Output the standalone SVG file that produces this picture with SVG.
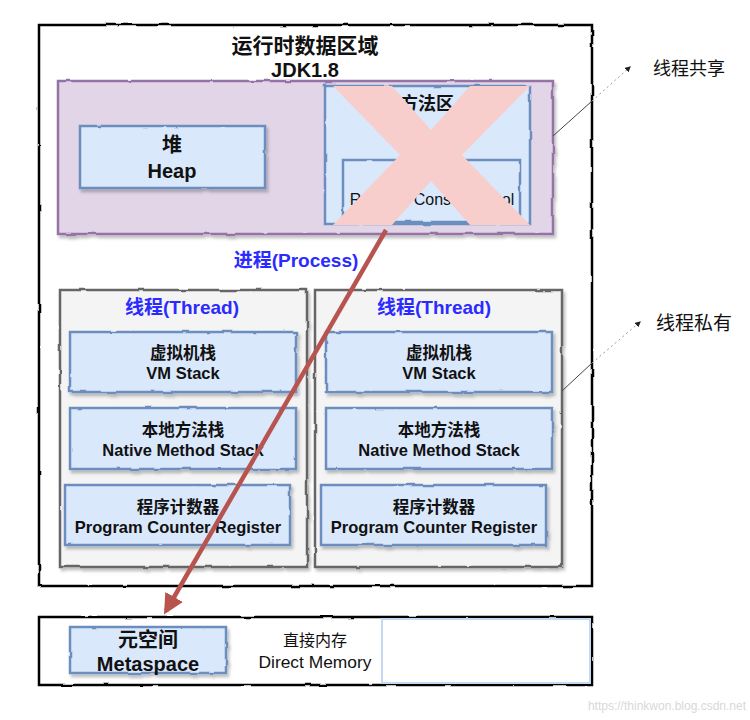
<svg xmlns="http://www.w3.org/2000/svg" width="750" height="720" viewBox="0 0 750 720">
<defs>
<style>
text{font-family:"Liberation Sans","Noto Sans CJK SC",sans-serif;text-anchor:middle;fill:#111}
.b{font-weight:bold}
.blue{fill:#2b2bff;font-weight:bold;font-size:19px}
.node{fill:#dae8fc;stroke:#6c8ebf;stroke-width:2.5}
.thread{fill:#f4f4f4;stroke:#666;stroke-width:2.5}
.outer{fill:#fff;stroke:#000;stroke-width:2.5}
.t15{font-size:16.5px;font-weight:bold}
.sk{filter:url(#rough)}
</style>
<marker id="ah" viewBox="0 0 10 10" refX="8" refY="5" markerWidth="6" markerHeight="6" orient="auto"><path d="M0,0 L10,5 L0,10 z" fill="#222"/></marker>
<marker id="red" viewBox="0 0 10 10" refX="8" refY="5" markerWidth="4.5" markerHeight="4.5" orient="auto"><path d="M0,0 L10,5 L0,10 z" fill="#b85450"/></marker>
<filter id="sh" x="-5%" y="-5%" width="115%" height="120%"><feTurbulence type="fractalNoise" baseFrequency="0.05" numOctaves="2" seed="3" result="n"/><feDisplacementMap in="SourceGraphic" in2="n" scale="2.5" result="d"/><feDropShadow in="d" dx="2" dy="3" stdDeviation="1.5" flood-color="#000" flood-opacity="0.25"/></filter>
<filter id="rough" x="-2%" y="-2%" width="104%" height="104%"><feTurbulence type="fractalNoise" baseFrequency="0.05" numOctaves="2" seed="7" result="n"/><feDisplacementMap in="SourceGraphic" in2="n" scale="2.5"/></filter>
</defs>

<g id="runtime">
<rect class="outer sk" x="39" y="25" width="553" height="561"/>
<text class="b" x="305" y="53" font-size="21">运行时数据区域</text>
<text class="b" x="305" y="77" font-size="20">JDK1.8</text>
</g>

<g id="shared">
<rect x="58" y="81" width="495" height="153" fill="#e1d5e7" stroke="#9673a6" stroke-width="2.5" filter="url(#sh)"/>
</g>

<g id="heap">
<rect class="node" x="80" y="126" width="185" height="62" filter="url(#sh)"/>
<text class="b" x="172" y="152" font-size="20">堆</text>
<text class="b" x="172" y="178" font-size="20">Heap</text>
</g>

<g id="method-area">
<rect class="node sk" x="325" y="86" width="205" height="138"/>
<text class="b" x="427" y="110" font-size="18">方法区</text>
<rect class="node sk" x="343" y="160" width="177" height="62"/>
<text x="432" y="205" font-size="16">Runtime Constant Pool</text>
<polygon points="333,86 392,86 431,130 470,86 530,86 462,155 530,225 470,225 431,181 392,225 333,225 400,155" fill="#f8cecc"/>
</g>

<text class="blue" x="296" y="267">进程(Process)</text>

<g id="thread-1">
<rect class="thread" x="60" y="290" width="247" height="277" filter="url(#sh)"/>
<text class="blue" x="182" y="314">线程(Thread)</text>
</g>
<g id="vm-stack-1">
<rect class="node" x="70" y="332" width="226" height="60" filter="url(#sh)"/>
<text class="t15" x="183" y="359">虚拟机栈</text>
<text class="t15" x="183" y="379">VM Stack</text>
</g>
<g id="native-stack-1">
<rect class="node" x="70" y="408" width="226" height="61" filter="url(#sh)"/>
<text class="t15" x="183" y="436">本地方法栈</text>
<text class="t15" x="183" y="456">Native Method Stack</text>
</g>
<g id="pc-1">
<rect class="node" x="65" y="485" width="225" height="60" filter="url(#sh)"/>
<text class="t15" x="178" y="513">程序计数器</text>
<text class="t15" x="178" y="533">Program Counter Register</text>
</g>

<g id="thread-2">
<rect class="thread" x="315" y="290" width="247" height="277" filter="url(#sh)"/>
<text class="blue" x="434" y="314">线程(Thread)</text>
</g>
<g id="vm-stack-2">
<rect class="node" x="326" y="332" width="226" height="60" filter="url(#sh)"/>
<text class="t15" x="439" y="359">虚拟机栈</text>
<text class="t15" x="439" y="379">VM Stack</text>
</g>
<g id="native-stack-2">
<rect class="node" x="326" y="408" width="226" height="61" filter="url(#sh)"/>
<text class="t15" x="439" y="436">本地方法栈</text>
<text class="t15" x="439" y="456">Native Method Stack</text>
</g>
<g id="pc-2">
<rect class="node" x="321" y="485" width="225" height="60" filter="url(#sh)"/>
<text class="t15" x="434" y="513">程序计数器</text>
<text class="t15" x="434" y="533">Program Counter Register</text>
</g>

<g id="bottom">
<rect class="outer sk" x="39" y="617" width="553" height="68"/>
<rect x="382" y="619" width="208" height="64" fill="#fff" stroke="#c5d8f2" stroke-width="2"/>
<text x="315" y="646" font-size="16">直接内存</text>
<text x="315" y="668" font-size="16" textLength="113" lengthAdjust="spacingAndGlyphs">Direct Memory</text>
</g>
<g id="metaspace">
<rect class="node" x="70" y="627" width="156" height="46" filter="url(#sh)"/>
<text class="b" x="148" y="647" font-size="20">元空间</text>
<text class="b" x="148" y="671" font-size="20">Metaspace</text>
</g>

<g id="connectors">
<line x1="386" y1="230" x2="166" y2="611" stroke="#b85450" stroke-width="4.5" marker-end="url(#red)"/>
<line x1="553" y1="136" x2="592" y2="101" stroke="#444" stroke-width="1"/>
<line x1="592" y1="101" x2="630" y2="67" stroke="#999" stroke-width="1" stroke-dasharray="2,3" marker-end="url(#ah)"/>
<line x1="562" y1="391" x2="592" y2="363" stroke="#444" stroke-width="1"/>
<line x1="592" y1="363" x2="640" y2="322" stroke="#999" stroke-width="1" stroke-dasharray="2,3" marker-end="url(#ah)"/>
</g>

<text x="689" y="75" font-size="18">线程共享</text>
<text x="694" y="330" font-size="19">线程私有</text>
<text x="667" y="710" font-size="12" style="fill:#d8d8d8">https://thinkwon.blog.csdn.net</text>
</svg>
